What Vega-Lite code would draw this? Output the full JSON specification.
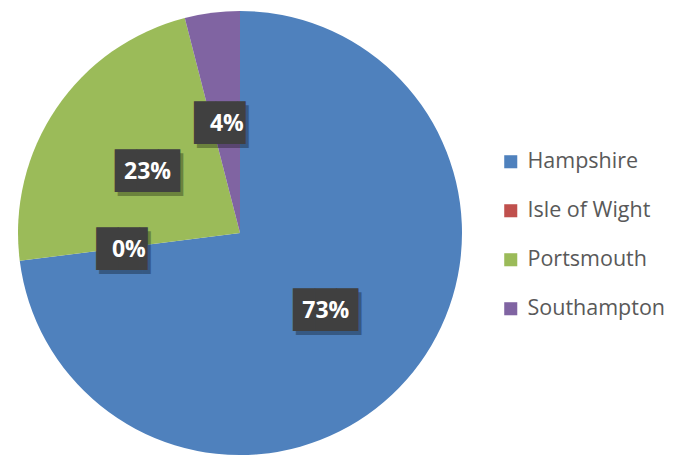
{
  "$schema": "https://vega.github.io/schema/vega-lite/v6.json",
  "width": 444,
  "height": 444,
  "padding": {"left": 18, "top": 11, "right": 218, "bottom": 2},
  "autosize": {"type": "none"},
  "background": "white",
  "config": {"view": {"stroke": null}},
  "data": {
    "values": [
      {"area": "Hampshire", "share": 0.73},
      {"area": "Isle of Wight", "share": 0},
      {"area": "Portsmouth", "share": 0.23},
      {"area": "Southampton", "share": 0.04}
    ]
  },
  "transform": [
    {"calculate": "datum.share >= 0.1 ? '███' : '██▍'", "as": "box"}
  ],
  "encoding": {
    "theta": {"field": "share", "type": "quantitative", "stack": true},
    "order": {"field": "area", "type": "ordinal", "sort": "ascending"},
    "detail": {"field": "area", "type": "nominal"},
    "color": {
      "field": "area",
      "type": "nominal",
      "scale": {
        "domain": ["Hampshire", "Isle of Wight", "Portsmouth", "Southampton"],
        "range": ["#4F81BD", "#C0504D", "#9BBB59", "#8064A2"]
      },
      "legend": {
        "title": null,
        "orient": "none",
        "legendX": 482,
        "legendY": 140,
        "symbolType": "square",
        "symbolSize": 170,
        "symbolStrokeWidth": 0,
        "labelFont": "Open Sans",
        "labelFontSize": 21.5,
        "labelColor": "#595959",
        "labelOffset": 6,
        "rowPadding": 26,
        "labelLimit": 300
      }
    }
  },
  "layer": [
    {"mark": {"type": "arc", "outerRadius": 222}},
    {
      "mark": {"type": "text", "radius": 113, "font": "DejaVu Sans Mono", "fontSize": 36, "opacity": 0.3, "dx": 4, "dy": 7, "baseline": "middle", "align": "center"},
      "encoding": {"text": {"field": "box"}, "color": {"value": "#000000"}}
    },
    {
      "mark": {"type": "text", "radius": 113, "font": "DejaVu Sans Mono", "fontSize": 36, "dx": 1, "dy": 3, "baseline": "middle", "align": "center"},
      "encoding": {"text": {"field": "box"}, "color": {"value": "#404040"}}
    },
    {
      "mark": {"type": "text", "radius": 113, "font": "Open Sans", "fontWeight": "bold", "fontSize": 23, "dx": 1, "dy": 3, "baseline": "middle", "align": "center"},
      "encoding": {"text": {"field": "share", "format": ".0%"}, "color": {"value": "#FFFFFF"}}
    }
  ]
}
